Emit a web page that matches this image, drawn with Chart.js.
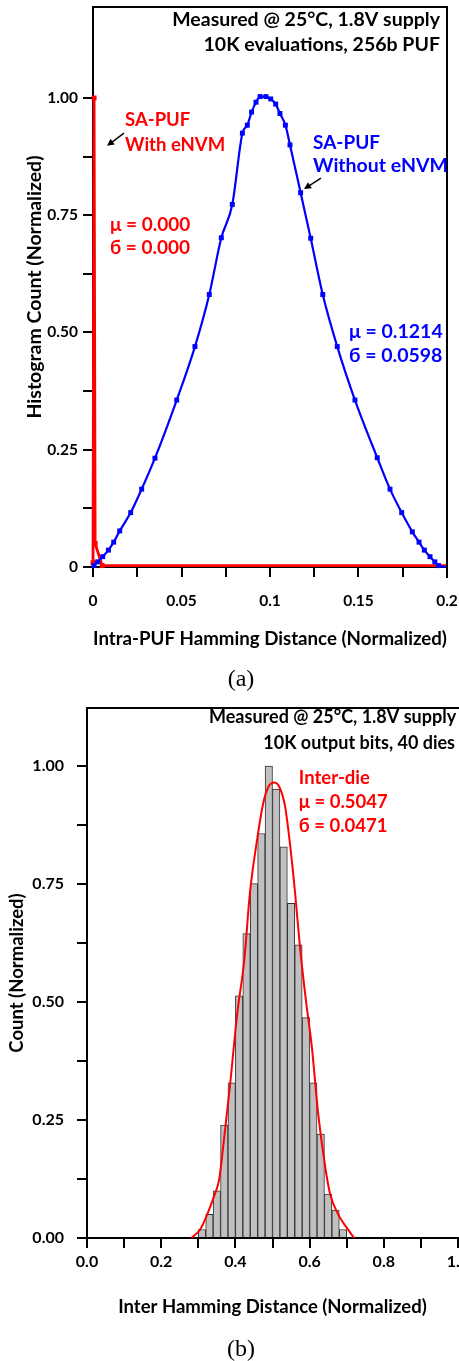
<!DOCTYPE html>
<html>
<head>
<meta charset="utf-8">
<title>SA-PUF Hamming distance</title>
<script src="https://cdn.jsdelivr.net/npm/chart.js@4.4.1/dist/chart.umd.min.js"></script>
<style>
  html, body { margin: 0; padding: 0; background: #fff; }
  body { position: relative; width: 459px; height: 1361px; overflow: hidden; }
  canvas { position: absolute; left: 0; }
  #chartA { top: 0; }
  #chartB { top: 700px; }
  .caption { position: absolute; left: 241px; transform: translateX(-50%); font-family: 'Liberation Serif', 'DejaVu Serif', serif; font-size: 24px; line-height: 24px; color: #000; }
</style>
</head>
<body>
<canvas id="chartA" width="459" height="700"></canvas>
<canvas id="chartB" width="459" height="661"></canvas>
<div class="caption" style="top: 666px;">(a)</div>
<div class="caption" style="top: 1336px;">(b)</div>
<script>
// ---------- (a) intra-PUF Hamming distance ----------
const intraXTicks = [0, 0.025, 0.05, 0.075, 0.1, 0.125, 0.15, 0.175, 0.2];
const intraXLabels = ['0', '', '0.05', '', '0.1', '', '0.15', '', '0.2'];
const intraYTicks = [0, 0.125, 0.25, 0.375, 0.5, 0.625, 0.75, 0.875, 1];
const intraYLabels = ['0', '', '0.25', '', '0.50', '', '0.75', '', '1.00'];

// SA-PUF without eNVM (blue squares, ends of the fit pinned at 0)
const noNvmHd = [0, 0.0006, 0.0026, 0.0055, 0.0087, 0.0117, 0.0151, 0.0213, 0.0275, 0.035,
  0.0473, 0.0576, 0.0657, 0.0725, 0.0787, 0.0844, 0.0872, 0.0896, 0.0921, 0.0944,
  0.0977, 0.1004, 0.1032, 0.1056, 0.1087, 0.1113, 0.1173, 0.123, 0.1298, 0.138,
  0.148, 0.1606, 0.1678, 0.1744, 0.1804, 0.1842, 0.1872, 0.1904, 0.1931, 0.1953, 0.2];
const noNvmCount = [0, 0.003, 0.011, 0.022, 0.036, 0.053, 0.077, 0.116, 0.166, 0.232,
  0.356, 0.47, 0.581, 0.702, 0.773, 0.925, 0.942, 0.97, 0.991, 1.003,
  1.003, 0.998, 0.987, 0.967, 0.942, 0.9, 0.798, 0.701, 0.581, 0.47,
  0.356, 0.233, 0.166, 0.116, 0.075, 0.053, 0.036, 0.022, 0.011, 0.003, 0];

// SA-PUF with eNVM (red spike at zero)
const withNvmHd = [0, 0.0006, 0.0012, 0.0052, 0.2];
const withNvmCount = [0.009, 1, 0.05, 0.003, 0.003];

// ---------- (b) inter-die Hamming distance ----------
const interXTicks = [0, 0.1, 0.2, 0.3, 0.4, 0.5, 0.6, 0.7, 0.8, 0.9, 1];
const interXLabels = ['0.0', '', '0.2', '', '0.4', '', '0.6', '', '0.8', '', '1.0'];
const interYTicks = [0, 0.125, 0.25, 0.375, 0.5, 0.625, 0.75, 0.875, 1];
const interYLabels = ['0.00', '', '0.25', '', '0.50', '', '0.75', '', '1.00'];

const binCenter = [0.31, 0.33, 0.35, 0.37, 0.39, 0.41, 0.43, 0.45, 0.47, 0.49,
  0.51, 0.53, 0.55, 0.57, 0.59, 0.61, 0.63, 0.65, 0.67, 0.69];
const binCount = [0.018, 0.05, 0.1, 0.239, 0.329, 0.513, 0.645, 0.751, 0.857, 1,
  0.951, 0.829, 0.709, 0.621, 0.467, 0.329, 0.22, 0.093, 0.059, 0.018];

// red fitted curve
const fitHd = [0.281, 0.305, 0.323, 0.345, 0.356, 0.368, 0.385, 0.405, 0.424, 0.439,
  0.457, 0.475, 0.489, 0.505, 0.52, 0.534, 0.547, 0.561, 0.574, 0.59,
  0.606, 0.623, 0.642, 0.655, 0.677, 0.7, 0.72];
const fitCount = [0, 0.018, 0.048, 0.094, 0.123, 0.2, 0.32, 0.476, 0.589, 0.73,
  0.836, 0.921, 0.956, 0.965, 0.953, 0.914, 0.836, 0.73, 0.617, 0.504,
  0.405, 0.264, 0.151, 0.094, 0.05, 0.022, 0];

const BLUE = '#0000ff';
const RED = '#ff0000';
const FONT = "Lato, 'Noto Sans', 'DejaVu Sans', sans-serif";

const toPoints = (xs, ys) => xs.map((v, i) => ({ x: v, y: ys[i] }));

// box around the plot plus the free text and arrows
const frameAndNotes = {
    id: 'frameAndNotes',
    afterDraw(chart, args, opts) {
        const { ctx, chartArea: area, scales: { x, y } } = chart;
        ctx.save();
        ctx.strokeStyle = '#000';
        ctx.lineWidth = 2;
        ctx.beginPath();
        ctx.moveTo(area.left - 1, area.top);
        if (opts.rightFrame) {
            ctx.lineTo(area.right, area.top);
            ctx.lineTo(area.right, area.bottom + 11);
        } else {
            ctx.lineTo(chart.width, area.top);
        }
        ctx.stroke();

        opts.notes.forEach(n => {
            ctx.font = `bold ${n.size}px ${FONT}`;
            ctx.fillStyle = n.color;
            ctx.textAlign = n.align || 'left';
            ctx.textBaseline = 'middle';
            ctx.fillText(n.text, x.getPixelForValue(n.x), y.getPixelForValue(n.y));
        });

        (opts.arrows || []).forEach(a => {
            const x1 = x.getPixelForValue(a.from[0]), y1 = y.getPixelForValue(a.from[1]);
            const x2 = x.getPixelForValue(a.to[0]), y2 = y.getPixelForValue(a.to[1]);
            const ang = Math.atan2(y2 - y1, x2 - x1);
            const c = Math.cos(ang), s = Math.sin(ang);
            ctx.strokeStyle = '#000';
            ctx.fillStyle = '#000';
            ctx.lineWidth = 1.4;
            ctx.beginPath();
            ctx.moveTo(x1, y1);
            ctx.lineTo(x2 - 5 * c, y2 - 5 * s);
            ctx.stroke();
            ctx.beginPath();
            ctx.moveTo(x2, y2);
            ctx.lineTo(x2 - 7 * c + 3.5 * s, y2 - 7 * s - 3.5 * c);
            ctx.lineTo(x2 - 7 * c - 3.5 * s, y2 - 7 * s + 3.5 * c);
            ctx.closePath();
            ctx.fill();
        });
        ctx.restore();
    }
};

function axis(min, max, tickValues, tickLabels, tickSize, tickPad, extra) {
    return Object.assign({
        type: 'linear',
        min: min,
        max: max,
        offset: false,
        afterBuildTicks: s => { s.ticks = tickValues.map(v => ({ value: v })); },
        ticks: {
            callback: (v, i) => tickLabels[i],
            font: { family: FONT, size: tickSize, weight: 'bold', lineHeight: 1.2 },
            color: '#000',
            padding: tickPad,
            maxRotation: 0,
            autoSkip: false
        },
        grid: { drawOnChartArea: false, drawTicks: true, tickLength: 10, color: '#000', lineWidth: 2, offset: false },
        border: { color: '#000', width: 2 }
    }, extra);
}

function axisTitle(text, size, padding) {
    return {
        display: true,
        text: text,
        color: '#000',
        font: { family: FONT, size: size, weight: 'bold', lineHeight: 1.2 },
        padding: padding
    };
}

new Chart(document.getElementById('chartA'), {
    type: 'line',
    data: {
        datasets: [
            {
                label: 'SA-PUF Without eNVM',
                data: toPoints(noNvmHd, noNvmCount),
                borderColor: BLUE,
                backgroundColor: BLUE,
                borderWidth: 2.2,
                pointStyle: 'rect',
                pointRadius: c => (c.dataIndex === 0 || c.dataIndex === noNvmHd.length - 1) ? 0 : 3.5,
                pointBorderWidth: 0,
                cubicInterpolationMode: 'monotone',
                clip: false,
                order: 0
            },
            {
                label: 'SA-PUF With eNVM',
                data: toPoints(withNvmHd, withNvmCount),
                borderColor: RED,
                backgroundColor: RED,
                borderWidth: 2.8,
                tension: 0,
                pointStyle: 'rect',
                pointRadius: c => c.dataIndex === withNvmHd.length - 1 ? 0 : 3.5,
                pointBorderWidth: 0,
                clip: false,
                order: 1
            }
        ]
    },
    options: {
        responsive: false,
        animation: false,
        devicePixelRatio: 1,
        layout: { padding: { left: 0, top: 7, right: 12, bottom: 0 } },
        plugins: {
            legend: { display: false },
            tooltip: { enabled: false },
            frameAndNotes: {
                rightFrame: true,
                notes: [
                    { text: 'Measured @ 25°C, 1.8V supply', x: 0.196, y: 1.166, align: 'right', color: '#000', size: 19.5 },
                    { text: '10K evaluations, 256b PUF', x: 0.196, y: 1.113, align: 'right', color: '#000', size: 19.5 },
                    { text: 'SA-PUF', x: 0.0181, y: 0.953, color: RED, size: 18.5 },
                    { text: 'With eNVM', x: 0.0181, y: 0.9, color: RED, size: 18.5 },
                    { text: 'μ = 0.000', x: 0.0096, y: 0.729, color: RED, size: 19 },
                    { text: 'б = 0.000', x: 0.0096, y: 0.68, color: RED, size: 19 },
                    { text: 'SA-PUF', x: 0.1243, y: 0.904, color: BLUE, size: 19 },
                    { text: 'Without eNVM', x: 0.1243, y: 0.855, color: BLUE, size: 19.5 },
                    { text: 'μ = 0.1214', x: 0.1446, y: 0.501, color: BLUE, size: 19.5 },
                    { text: 'б = 0.0598', x: 0.1446, y: 0.45, color: BLUE, size: 19.5 }
                ],
                arrows: [
                    { from: [0.0175, 0.925], to: [0.0079, 0.898] },
                    { from: [0.1288, 0.829], to: [0.1192, 0.806] }
                ]
            }
        },
        scales: {
            x: axis(0, 0.2, intraXTicks, intraXLabels, 15.5, 15, {
                afterFit: s => { s.height = 133; s.paddingLeft = 0; s.paddingRight = 0; },
                title: axisTitle('Intra-PUF Hamming Distance (Normalized)', 19.5, { top: 0, bottom: 50 })
            }),
            y: axis(0, 1.194, intraYTicks, intraYLabels, 15.5, 5, {
                afterFit: s => { s.width = 93; s.paddingTop = 0; s.paddingBottom = 0; },
                title: axisTitle('Histogram Count (Normalized)', 19.5, { top: 23, bottom: 0 })
            })
        }
    },
    plugins: [frameAndNotes]
});

new Chart(document.getElementById('chartB'), {
    type: 'bar',
    data: {
        datasets: [
            {
                type: 'line',
                label: 'Inter-die fit',
                data: toPoints(fitHd, fitCount),
                borderColor: RED,
                borderWidth: 2,
                pointRadius: 0,
                cubicInterpolationMode: 'monotone',
                order: 0
            },
            {
                type: 'bar',
                label: 'Inter-die',
                data: toPoints(binCenter, binCount),
                backgroundColor: '#c0c0c0',
                borderColor: '#333333',
                borderWidth: 1,
                barPercentage: 1,
                categoryPercentage: 1,
                order: 1
            }
        ]
    },
    options: {
        responsive: false,
        animation: false,
        devicePixelRatio: 1,
        layout: { padding: { left: 0, top: 8, right: 1, bottom: 0 } },
        plugins: {
            legend: { display: false },
            tooltip: { enabled: false },
            frameAndNotes: {
                rightFrame: false,
                notes: [
                    { text: 'Measured @ 25°C, 1.8V supply', x: 0.995, y: 1.104, align: 'right', color: '#000', size: 18 },
                    { text: '10K output bits, 40 dies', x: 0.992, y: 1.049, align: 'right', color: '#000', size: 18 },
                    { text: 'Inter-die', x: 0.571, y: 0.975, color: RED, size: 18.5 },
                    { text: 'μ = 0.5047', x: 0.571, y: 0.924, color: RED, size: 18.5 },
                    { text: 'б = 0.0471', x: 0.571, y: 0.873, color: RED, size: 18.5 }
                ]
            }
        },
        scales: {
            x: axis(0, 1, interXTicks, interXLabels, 16, 4, {
                afterFit: s => { s.height = 123; s.paddingLeft = 0; s.paddingRight = 0; },
                title: axisTitle('Inter Hamming Distance (Normalized)', 18.5, { top: 0, bottom: 43 })
            }),
            y: axis(0, 1.123, interYTicks, interYLabels, 16, 13, {
                afterFit: s => { s.width = 87; s.paddingTop = 0; s.paddingBottom = 0; },
                title: axisTitle('Count (Normalized)', 18.5, { top: 6, bottom: 0 })
            })
        }
    },
    plugins: [frameAndNotes]
});
</script>
</body>
</html>
